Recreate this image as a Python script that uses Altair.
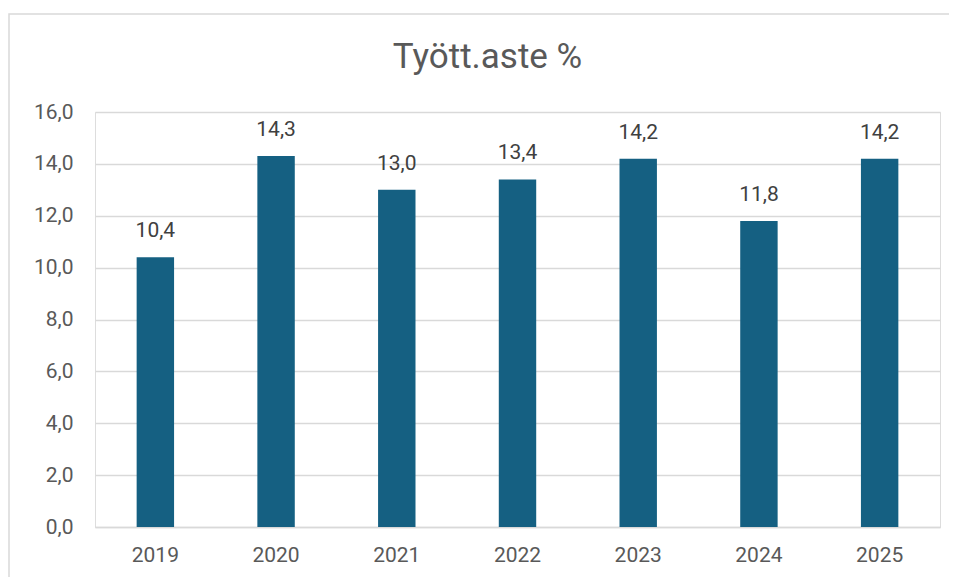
import altair as alt
import pandas as pd

years = ["2019", "2020", "2021", "2022", "2023", "2024", "2025"]
rates = [10.4, 14.3, 13.0, 13.4, 14.2, 11.8, 14.2]
y_ticks = [0, 2, 4, 6, 8, 10, 12, 14, 16]

df = pd.DataFrame({"vuosi": years, "aste": rates})

FONT = "Roboto"

base = alt.Chart(df).encode(
    x=alt.X("vuosi:N", sort=years, title=None,
            scale=alt.Scale(paddingInner=0.69, paddingOuter=0.345),
            axis=alt.Axis(labelAngle=0, labelFontSize=21, labelColor="#595959",
                          labelFont=FONT, labelPadding=17, ticks=False,
                          domainColor="#d9d9d9", domainWidth=1.5, grid=False)),
    y=alt.Y("aste:Q", title=None,
            scale=alt.Scale(domain=[0, 16], nice=False),
            axis=alt.Axis(values=y_ticks, labelFontSize=21, labelColor="#595959",
                          labelFont=FONT, labelPadding=22, ticks=False, domain=False,
                          gridColor="#d9d9d9", gridWidth=1.5,
                          labelExpr="replace(format(datum.value, '.1f'), '.', ',')")),
)

bars = base.mark_bar(color="#156082")

labels = base.transform_calculate(
    lbl="replace(format(datum.aste, '.1f'), '.', ',')"
).mark_text(baseline="bottom", dy=-16, fontSize=21, color="#404040", font=FONT).encode(
    text="lbl:N"
)

border = alt.Chart(alt.Data(values=[{"a": 1}])).mark_rect(
    fillOpacity=0, stroke="#d9d9d9", strokeWidth=1.5
).encode(
    x=alt.value(-86), x2=alt.value(870), y=alt.value(-98), y2=alt.value(480)
)

chart = alt.layer(border, bars, labels).properties(
    width=845,
    height=415,
    title=alt.TitleParams("Tyött.aste %", fontSize=35, font=FONT, color="#595959",
                          fontWeight="normal", anchor="middle", frame="group",
                          offset=-62, dx=-30),
    autosize=alt.AutoSizeParams(type="none"),
    padding={"left": 87, "top": 104, "right": 9, "bottom": 50},
).configure_view(stroke=None).configure(background="white")

chart.save("out.html", embed_options={"renderer": "svg", "actions": False})
